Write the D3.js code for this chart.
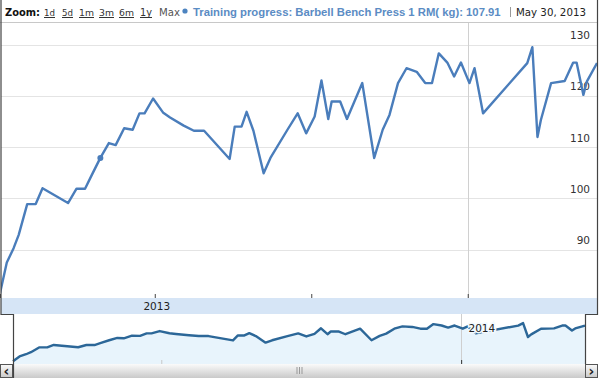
<!DOCTYPE html>
<html>
<head>
<meta charset="utf-8">
<script src="https://cdn.jsdelivr.net/npm/d3@7"></script>
<style>
  body { margin: 0; background: #fff; }
  svg { display: block; font-family: "DejaVu Sans", Verdana, sans-serif; }
</style>
</head>
<body>
<script>
// workout log: date of each session and the estimated 1 RM
var dates = ["2013-04-01", "2013-04-05", "2013-04-09", "2013-04-12", "2013-04-17", "2013-04-22",
  "2013-04-26", "2013-05-11", "2013-05-16", "2013-05-21", "2013-05-25", "2013-05-30",
  "2013-06-04", "2013-06-08", "2013-06-13", "2013-06-18", "2013-06-22", "2013-06-25",
  "2013-06-30", "2013-07-06", "2013-07-10", "2013-07-18", "2013-07-24", "2013-07-30",
  "2013-08-14", "2013-08-17", "2013-08-21", "2013-08-24", "2013-08-28", "2013-09-03",
  "2013-09-07", "2013-09-17", "2013-09-23", "2013-09-28", "2013-10-03", "2013-10-07",
  "2013-10-11", "2013-10-13", "2013-10-18", "2013-10-22", "2013-10-31", "2013-11-07",
  "2013-11-12", "2013-11-16", "2013-11-21", "2013-11-26", "2013-12-02", "2013-12-07",
  "2013-12-11", "2013-12-15", "2013-12-20", "2013-12-24", "2013-12-28", "2014-01-02",
  "2014-01-05", "2014-01-10", "2014-02-05", "2014-02-08", "2014-02-11", "2014-02-13",
  "2014-02-19", "2014-02-27", "2014-03-04", "2014-03-06", "2014-03-10", "2014-03-12",
  "2014-03-18"];
var values = [81.5, 87.5, 90.3, 92.9, 98.9, 98.9,
  102.0, 99.1, 101.9, 101.9, 104.6, 107.91,
  110.8, 110.4, 113.7, 113.4, 116.6, 116.6,
  119.5, 116.7, 115.8, 114.2, 113.2, 113.2,
  107.7, 114.0, 114.0, 116.9, 113.2, 104.9,
  107.9, 113.4, 116.6, 112.7, 116.0, 123.0,
  115.5, 118.9, 118.9, 115.5, 122.5, 107.9,
  113.4, 116.3, 122.5, 125.4, 124.7, 122.5,
  122.5, 128.3, 126.5, 123.8, 126.5, 122.5,
  125.4, 116.6, 126.4, 129.5, 112.0, 115.3,
  122.5, 122.9, 126.5, 126.5, 120.2, 122.8,
  126.4];
var yTicks = [90, 100, 110, 120, 130];
var zoomLinks = ["1d", "5d", "1m", "3m", "6m", "1y"];
var seriesName = "Training progress: Barbell Bench Press 1 RM( kg)";
var hoverIndex = 11;
var hoverLabel = "May 30, 2013";

var width = 601, height = 380;
var parse = d3.timeParse("%Y-%m-%d");
var data = dates.map(function(d, i) { return { date: parse(d), value: values[i] }; });

var svg = d3.select("body").append("svg")
  .attr("width", width)
  .attr("height", height);

var x = d3.scaleTime()
  .domain([new Date(2013, 3, 1), new Date(2014, 2, 18)])
  .range([0, 597]);
var y = d3.scaleLinear().domain([80, 135]).range([301, 19]);

// navigator scales
var nx = x.copy().range([13, 585]);
var ny = d3.scaleLinear().domain([78, 141]).range([364, 314]);

svg.append("defs").append("clipPath")
  .attr("id", "plotClip")
  .append("rect")
  .attr("x", 1).attr("y", 23).attr("width", 596).attr("height", 275);

// shrink/grow the font so the text takes the given width
function fit(t, w) {
  var len = t.node().getComputedTextLength();
  t.attr("font-size", 11 * w / len);
  return t;
}

// ---- header ----
var header = svg.append("g");
fit(header.append("text")
  .attr("x", 5).attr("y", 16).attr("font-size", 11)
  .attr("font-weight", "bold").attr("fill", "#111")
  .text("Zoom:"), 35);
var linkX = [44, 62, 79, 99, 119, 140];
var linkW = [11, 11, 15, 15, 15, 12];
zoomLinks.forEach(function(l, i) {
  fit(header.append("text")
    .attr("x", linkX[i]).attr("y", 16).attr("font-size", 11)
    .attr("fill", "#333")
    .text(l), linkW[i]);
  header.append("line")
    .attr("x1", linkX[i]).attr("x2", linkX[i] + linkW[i])
    .attr("y1", 17.5).attr("y2", 17.5)
    .attr("stroke", "#333").attr("stroke-width", 1);
});
fit(header.append("text")
  .attr("x", 159).attr("y", 16).attr("font-size", 11).attr("fill", "#555")
  .text("Max"), 21);
header.append("circle")
  .attr("cx", 185).attr("cy", 11).attr("r", 2.6)
  .attr("fill", "#4d84c0");
fit(header.append("text")
  .attr("x", 193).attr("y", 16).attr("font-size", 11)
  .attr("font-family", "Liberation Sans, Arial, sans-serif")
  .attr("font-weight", "bold").attr("fill", "#5b8cc4")
  .text(seriesName + ": " + values[hoverIndex]), 308);
header.append("line")
  .attr("x1", 510.5).attr("x2", 510.5).attr("y1", 7).attr("y2", 17)
  .attr("stroke", "#999");
fit(header.append("text")
  .attr("x", 516).attr("y", 16).attr("font-size", 11).attr("fill", "#222")
  .text(hoverLabel), 70);

// ---- main plot ----
svg.append("line")
  .attr("x1", 0).attr("x2", 597).attr("y1", 22.5).attr("y2", 22.5)
  .attr("stroke", "#c8c8c8");

svg.append("g").selectAll("line")
  .data(yTicks)
  .enter().append("line")
  .attr("x1", 1).attr("x2", 597)
  .attr("y1", function(d) { return Math.round(y(d)) + 0.5; })
  .attr("y2", function(d) { return Math.round(y(d)) + 0.5; })
  .attr("stroke", "#e4e4e4");

// year boundary
svg.append("line")
  .attr("x1", Math.round(x(new Date(2014, 0, 1))) + 0.5)
  .attr("x2", Math.round(x(new Date(2014, 0, 1))) + 0.5)
  .attr("y1", 23).attr("y2", 298)
  .attr("stroke", "#d0d0d0");

var yAxis = svg.append("g")
  .attr("transform", "translate(590,0)")
  .call(d3.axisLeft(y).tickValues(yTicks).tickSize(0).tickPadding(0));
yAxis.select(".domain").remove();
yAxis.selectAll("text")
  .attr("dy", -6)
  .attr("fill", "#333")
  .attr("font-size", 10.5)
  .attr("font-family", "DejaVu Sans, Verdana, sans-serif");

var line = d3.line()
  .x(function(d) { return x(d.date); })
  .y(function(d) { return y(d.value); });

svg.append("path")
  .datum(data)
  .attr("clip-path", "url(#plotClip)")
  .attr("fill", "none")
  .attr("stroke", "#4a7dbb")
  .attr("stroke-width", 2.4)
  .attr("stroke-linejoin", "round")
  .attr("d", line);

svg.append("circle")
  .attr("cx", x(data[hoverIndex].date))
  .attr("cy", y(data[hoverIndex].value))
  .attr("r", 3)
  .attr("fill", "#4a7dbb");

var xAxis = svg.append("g")
  .attr("transform", "translate(0,298)")
  .call(d3.axisTop(x).ticks(d3.timeMonth.every(3)).tickSize(4).tickFormat(""));
xAxis.select(".domain").remove();
xAxis.selectAll("line").attr("stroke", "#444");

// axis band with year label
svg.append("rect")
  .attr("x", 1).attr("y", 298).attr("width", 596).attr("height", 16)
  .attr("fill", "#d6e5f6");
svg.append("text")
  .attr("x", x(new Date(2013, 6, 1)) + 2).attr("y", 310)
  .attr("text-anchor", "middle")
  .attr("font-size", 10.5).attr("fill", "#222")
  .text("2013");

// ---- navigator ----
svg.append("rect")
  .attr("x", 13).attr("y", 314).attr("width", 572).attr("height", 50)
  .attr("fill", "#fff");

var area = d3.area()
  .x(function(d) { return nx(d.date); })
  .y0(364)
  .y1(function(d) { return ny(d.value); });
svg.append("path")
  .datum(data)
  .attr("fill", "#e8f4fc")
  .attr("d", area);

var nYear = Math.round(nx(new Date(2014, 0, 1))) + 0.5;
svg.append("line")
  .attr("x1", nYear).attr("x2", nYear).attr("y1", 314).attr("y2", 364)
  .attr("stroke", "#cfcfcf");

var navAxis = svg.append("g")
  .attr("transform", "translate(0,364)")
  .call(d3.axisTop(nx).tickValues([new Date(2013, 6, 1), new Date(2014, 0, 1)]).tickSize(4).tickFormat(""));
navAxis.select(".domain").remove();
navAxis.selectAll("line").attr("stroke", function(d, i) { return i === 0 ? "#c8c8c8" : "#333"; });

svg.append("path")
  .datum(data)
  .attr("fill", "none")
  .attr("stroke", "#2c6798")
  .attr("stroke-width", 2.4)
  .attr("stroke-linejoin", "round")
  .attr("d", d3.line()
    .x(function(d) { return nx(d.date); })
    .y(function(d) { return ny(d.value); }));

svg.append("text")
  .attr("x", nYear + 7).attr("y", 332)
  .attr("font-size", 10.5).attr("fill", "#222")
  .attr("stroke", "#f2f9fe").attr("stroke-width", 3).attr("paint-order", "stroke")
  .text("2014");

// scrollbar
var grad = svg.select("defs").append("linearGradient")
  .attr("id", "scrollGrad").attr("x1", 0).attr("y1", 0).attr("x2", 0).attr("y2", 1);
grad.append("stop").attr("offset", "0%").attr("stop-color", "#fafafa");
grad.append("stop").attr("offset", "100%").attr("stop-color", "#c9c9c9");
svg.append("rect")
  .attr("x", 0).attr("y", 364).attr("width", 598).attr("height", 14)
  .attr("fill", "url(#scrollGrad)");
[297, 299.5, 302].forEach(function(gx) {
  svg.append("line")
    .attr("x1", gx).attr("x2", gx).attr("y1", 367).attr("y2", 374)
    .attr("stroke", "#999");
});
[[0.5, "‹"], [585.5, "›"]].forEach(function(b) {
  svg.append("rect")
    .attr("x", b[0]).attr("y", 364.5).attr("width", 12).attr("height", 13)
    .attr("fill", "url(#scrollGrad)")
    .attr("stroke", "#555");
  svg.append("text")
    .attr("x", b[0] + 6).attr("y", 375.5)
    .attr("text-anchor", "middle")
    .attr("font-size", 14).attr("font-weight", "bold").attr("fill", "#222")
    .text(b[1]);
});

// chart frame and navigator window edges
svg.append("path")
  .attr("d", "M1,0V314.5H13.5V378")
  .attr("fill", "none").attr("stroke", "#444").attr("stroke-width", 1.2);
svg.append("path")
  .attr("d", "M597.5,0V314.5H585.5V364")
  .attr("fill", "none").attr("stroke", "#444").attr("stroke-width", 1.2);
</script>
</body>
</html>
